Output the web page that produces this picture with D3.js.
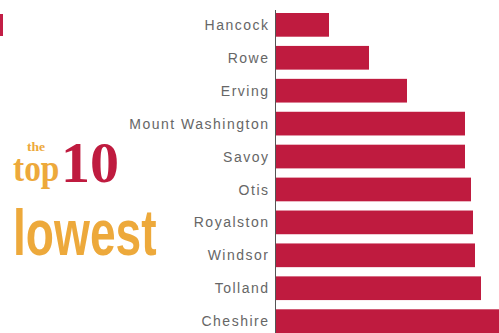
<!DOCTYPE html>
<html>
<head>
<meta charset="utf-8">
<script src="https://cdn.jsdelivr.net/npm/d3@7"></script>
<style>
html,body{margin:0;padding:0;background:#fff;}
svg{display:block;}
</style>
</head>
<body>
<svg id="chart" width="499" height="333"></svg>
<script>
const categories = ["Hancock","Rowe","Erving","Mount Washington","Savoy","Otis","Royalston","Windsor","Tolland","Cheshire"];
const values = [53, 93, 131, 189, 189, 195, 197, 199, 205, 232];

const svg = d3.select("#chart");

const y = d3.scaleBand().domain(categories).range([13, 333]).paddingInner(0.28).paddingOuter(0);
const x = d3.scaleLinear().domain([0, 230]).range([276, 506]);

// partial mark at left edge
svg.append("rect").attr("x", 0).attr("y", 14).attr("width", 3).attr("height", 22).attr("fill", "#C21E45");

svg.selectAll("rect.bar").data(categories).enter().append("rect")
  .attr("class", "bar")
  .attr("x", x(0))
  .attr("y", d => y(d))
  .attr("width", (d, i) => x(values[i]) - x(0))
  .attr("height", y.bandwidth())
  .attr("fill", "#BF1B3F");

// axis line
svg.append("line").attr("x1", 275.5).attr("x2", 275.5).attr("y1", 10).attr("y2", 333)
  .attr("stroke", "#555").attr("stroke-width", 1);

svg.selectAll("text.lab").data(categories).enter().append("text")
  .attr("class", "lab")
  .attr("x", 269.5)
  .attr("y", d => y(d) + y.bandwidth() / 2)
  .attr("dy", "0.36em")
  .attr("text-anchor", "end")
  .attr("font-family", "Liberation Sans, Arial, sans-serif")
  .attr("font-size", 14)
  .attr("letter-spacing", 1.5)
  .attr("fill", "#666")
  .text(d => d);

// title
const orange = "#EDA93B";
svg.append("text").attr("transform", "translate(27,151) scale(1.05,1)")
  .attr("font-family", "Liberation Serif, serif").attr("font-weight", "bold")
  .attr("font-size", 13).attr("fill", orange).text("the");
svg.append("text").attr("transform", "translate(13,181) scale(0.88,1)")
  .attr("font-family", "Liberation Serif, serif").attr("font-weight", "bold")
  .attr("font-size", 38).attr("fill", orange).text("top");
svg.append("text").attr("transform", "translate(61,182) scale(1,1)")
  .attr("font-family", "Liberation Serif, serif").attr("font-weight", "bold")
  .attr("font-size", 58).attr("fill", "#BF1B3F").text("10");
svg.append("text").attr("transform", "translate(13,255) scale(0.71,1)")
  .attr("font-family", "Liberation Sans, Arial, sans-serif").attr("font-weight", "bold")
  .attr("font-size", 65).attr("fill", orange).text("lowest");
</script>
</body>
</html>
